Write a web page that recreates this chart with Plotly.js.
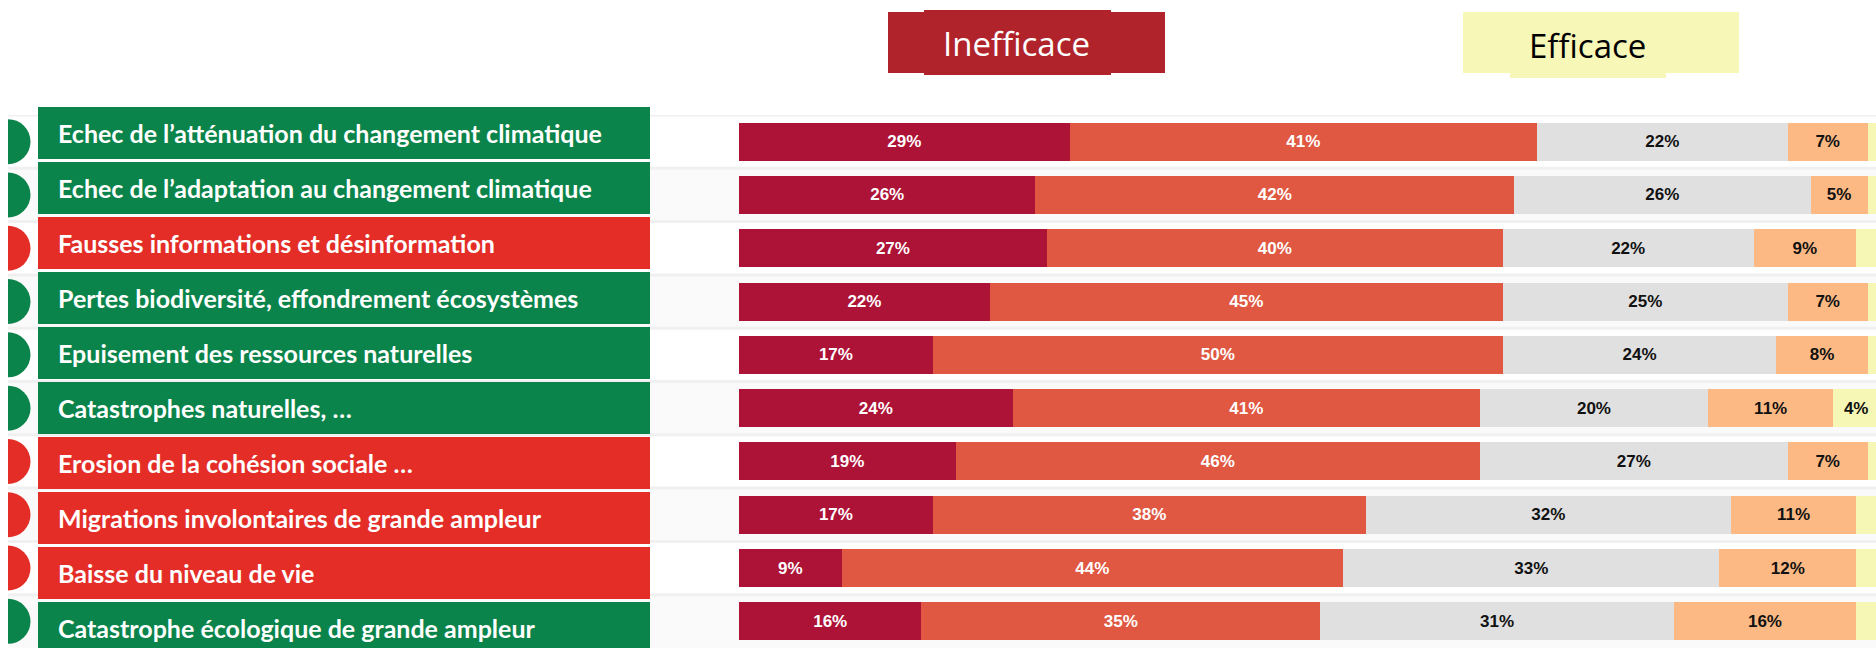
<!DOCTYPE html>
<html>
<head>
<meta charset="utf-8">
<script src="https://cdn.plot.ly/plotly-3.0.1.min.js"></script>
<style>
  html, body { margin: 0; padding: 0; background: #fff; }
  #chart { width: 1876px; height: 648px; }
</style>
</head>
<body>
<div id="chart"></div>
<script>
// Risk labels (top to bottom) and their family (env = green, soc = red)
const risks = [
    'Echec de l\u2019atténuation du changement climatique',
    'Echec de l\u2019adaptation au changement climatique',
    'Fausses informations et désinformation',
    'Pertes biodiversité, effondrement écosystèmes',
    'Epuisement des ressources naturelles',
    'Catastrophes naturelles, …',
    'Erosion de la cohésion sociale …',
    'Migrations involontaires de grande ampleur',
    'Baisse du niveau de vie',
    'Catastrophe écologique de grande ampleur'
];
const families = ['env', 'env', 'soc', 'env', 'env', 'env', 'soc', 'soc', 'soc', 'env'];

// Shares in % (left to right: very ineffective -> very effective)
const tresInefficace = [29, 26, 27, 22, 17, 24, 19, 17, 9, 16];
const plutotInefficace = [41, 42, 40, 45, 50, 41, 46, 38, 44, 35];
const neutre = [22, 26, 22, 25, 24, 20, 27, 32, 33, 31];
const plutotEfficace = [7, 5, 9, 7, 8, 11, 7, 11, 12, 16];
const tresEfficace = [1, 1, 2, 1, 1, 4, 1, 2, 2, 2];

const seriesNames = ['Très inefficace', 'Plutôt inefficace', 'Neutre', 'Plutôt efficace', 'Très efficace'];
const seriesValues = [tresInefficace, plutotInefficace, neutre, plutotEfficace, tresEfficace];
const seriesColors = ['#AD1237', '#E05841', '#E0E0E0', '#FCB984', '#F7F7B5'];
const seriesText = ['#ffffff', '#ffffff', '#111111', '#111111', '#111111'];

const familyColors = { env: '#0A844A', soc: '#E42D27' };

const W = 1876, H = 648;
const px = p => p / W;          // horizontal pixel -> paper
const py = p => 1 - p / H;      // vertical pixel -> paper

// Stacked bars
const data = seriesValues.map((vals, s) => ({
    type: 'bar',
    orientation: 'h',
    name: seriesNames[s],
    x: vals,
    y: risks,
    xaxis: 'x',
    yaxis: 'y',
    marker: { color: seriesColors[s], line: { width: 0 } },
    text: vals.map(v => (v >= 3 ? v + '%' : '')),
    textposition: 'inside',
    insidetextanchor: 'middle',
    textangle: 0,
    textfont: { family: 'Liberation Sans, Arial, sans-serif', size: 17, color: seriesText[s], weight: 'bold' },
    hoverinfo: 'skip'
}));

// Coloured label boxes
data.push({
    type: 'bar',
    orientation: 'h',
    x: risks.map(() => 1),
    y: risks,
    xaxis: 'x2',
    yaxis: 'y2',
    width: 0.945,
    marker: { color: families.map(f => familyColors[f]) },
    hoverinfo: 'skip'
});

// Half discs on the left edge
data.push({
    type: 'scatter',
    mode: 'markers',
    x: risks.map(() => 0),
    y: risks,
    xaxis: 'x3',
    yaxis: 'y',
    marker: { size: 45, color: families.map(f => familyColors[f]), line: { width: 0 } },
    hoverinfo: 'skip'
});

// Row separators and faint alternating stripes
const shapes = [];
risks.forEach((r, i) => {
    if (i % 2 === 1) {
        shapes.push({
            type: 'rect', layer: 'below', xref: 'paper', yref: 'y',
            x0: px(8), x1: 1, y0: i - 0.5, y1: i + 0.5,
            fillcolor: '#fafafa', line: { width: 0 }
        });
    }
    shapes.push({
        type: 'line', layer: 'below', xref: 'paper', yref: 'y',
        x0: px(8), x1: 1, y0: i - 0.5, y1: i - 0.5,
        line: { color: '#f0f0f0', width: 3 }
    });
});

// Header boxes
const box = (x0, x1, y0, y1, c) => ({
    type: 'rect', xref: 'paper', yref: 'paper',
    x0: px(x0), x1: px(x1), y0: py(y1), y1: py(y0),
    fillcolor: c, line: { width: 0 }
});
shapes.push(box(888, 1165, 12, 73, '#B0232B'));
shapes.push(box(924, 1111, 10, 75, '#B0232B'));
shapes.push(box(1463, 1739, 12, 73, '#F7F7B7'));
shapes.push(box(1510, 1666, 12, 78, '#F7F7B7'));

const annotations = [
    {
        xref: 'paper', yref: 'paper', x: px(1016), y: py(44),
        text: 'Inefficace', showarrow: false, xanchor: 'center', yanchor: 'middle',
        font: { family: 'Open Sans, sans-serif', size: 33, color: '#ffffff' }
    },
    {
        xref: 'paper', yref: 'paper', x: px(1587), y: py(46),
        text: 'Efficace', showarrow: false, xanchor: 'center', yanchor: 'middle',
        font: { family: 'Open Sans, sans-serif', size: 33, color: '#000000' }
    }
];
risks.forEach(r => {
    annotations.push({
        xref: 'x2', yref: 'y2', x: 0.029, y: r,
        text: r, showarrow: false, xanchor: 'left', yanchor: 'middle',
        font: { family: 'Lato, sans-serif', size: 25, color: '#ffffff', weight: 'bold' }
    });
});

const hidden = { visible: false, fixedrange: true };

const layout = {
    width: W,
    height: H,
    margin: { l: 0, r: 0, t: 0, b: 0 },
    paper_bgcolor: '#ffffff',
    plot_bgcolor: 'rgba(0,0,0,0)',
    barmode: 'stack',
    bargap: 0.287,
    showlegend: false,
    hovermode: false,
    xaxis: Object.assign({ domain: [px(739), 1], range: [0, 99.74] }, hidden),
    yaxis: Object.assign({ domain: [0, py(115)], range: [9.5, -0.5], type: 'category' }, hidden),
    xaxis2: Object.assign({ domain: [px(38), px(650)], range: [0, 1], anchor: 'y2' }, hidden),
    yaxis2: Object.assign({ domain: [0, py(105.5)], range: [9.364, -0.5], type: 'category', anchor: 'x2' }, hidden),
    xaxis3: Object.assign({ domain: [px(8), px(60)], range: [0, 1], anchor: 'y' }, hidden),
    shapes: shapes,
    annotations: annotations
};

Plotly.newPlot('chart', data, layout, { displayModeBar: false, staticPlot: true });
</script>
</body>
</html>
